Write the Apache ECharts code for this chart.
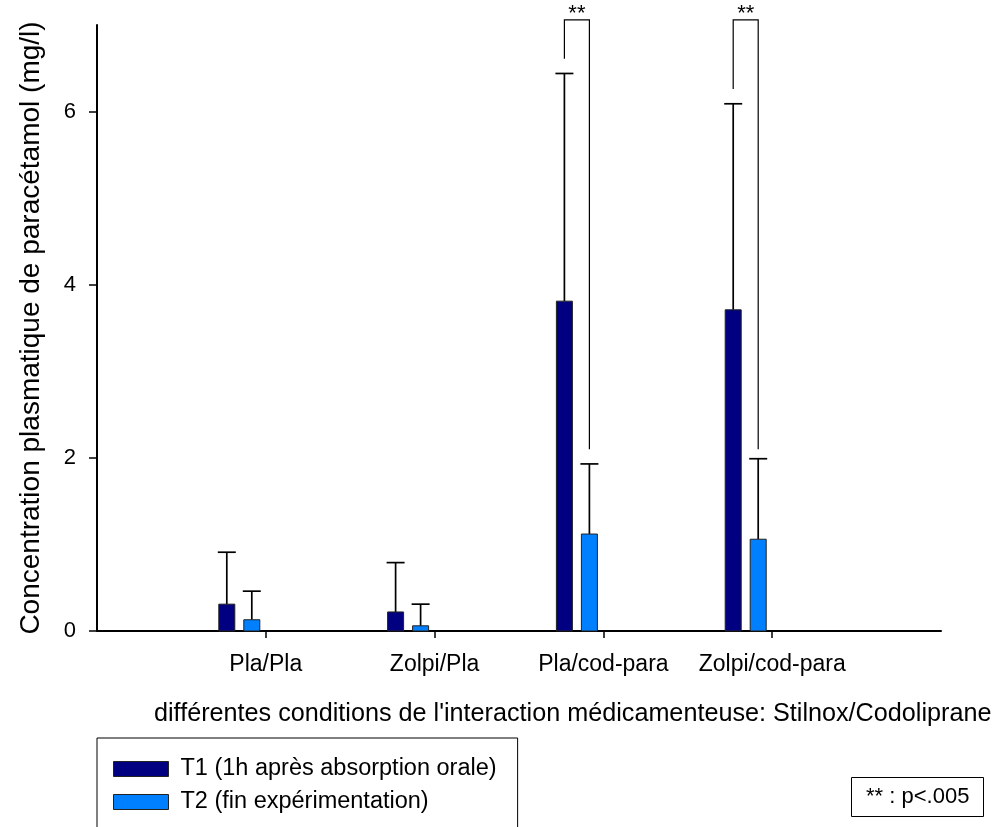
<!DOCTYPE html>
<html>
<head>
<meta charset="utf-8">
<script src="https://cdn.jsdelivr.net/npm/echarts@6/dist/echarts.min.js"></script>
<style>
html,body{margin:0;padding:0;background:#fff;}
#chart{width:1000px;height:827px;}
</style>
</head>
<body>
<div id="chart"></div>
<script>
// ---- data ----
const categories = ['Pla/Pla', 'Zolpi/Pla', 'Pla/cod-para', 'Zolpi/cod-para'];
const seriesNames = ['T1 (1h après absorption orale)', 'T2 (fin expérimentation)'];
const t1Means = [0.31, 0.22, 3.81, 3.71];
const t1Err   = [0.60, 0.57, 2.63, 2.38];
const t2Means = [0.13, 0.06, 1.12, 1.06];
const t2Err   = [0.33, 0.25, 0.81, 0.93];
const yTicks = [0, 2, 4, 6];
const sigCategoryIdx = [2, 3];
const sigLeftStart = [6.61, 6.26];
const sigRightEnd = [2.10, 2.10];
const sigTop = 7.06;
const sigLabel = '**';
const pNote = '** : p<.005';
const xTitle = "différentes conditions de l'interaction médicamenteuse: Stilnox/Codoliprane";
const yTitle = 'Concentration plasmatique de paracétamol (mg/l)';

// ---- styles ----
const FONT = 'Liberation Sans, Arial, Helvetica, sans-serif';
const C1 = '#000080', C2 = '#0080ff';
const BAR_W = 16, OFF1 = -39, OFF2 = -14;

function barRenderer(offset, color) {
  return function (params, api) {
    const x = api.value(0), v = api.value(1), e = api.value(2);
    const base = api.coord([x, 0]);
    const top = api.coord([x, v]);
    const et = api.coord([x, v + e]);
    const cx = base[0] + offset;
    return {
      type: 'group',
      children: [
        {type: 'line', shape: {x1: cx, y1: top[1], x2: cx, y2: et[1]}, style: {stroke: '#000', lineWidth: 1.7}},
        {type: 'line', shape: {x1: cx - 9, y1: et[1], x2: cx + 9, y2: et[1]}, style: {stroke: '#000', lineWidth: 1.7}},
        {type: 'rect', shape: {x: cx - BAR_W / 2, y: top[1], width: BAR_W, height: base[1] - top[1]},
         style: {fill: color, stroke: '#222', lineWidth: 1}}
      ]
    };
  };
}

function sigRenderer(params, api) {
  const x = api.value(0), a = api.value(1), b = api.value(2);
  const pL = api.coord([x, a]);
  const pT = api.coord([x, sigTop]);
  const pR = api.coord([x, b]);
  const xl = pL[0] + OFF1, xr = pL[0] + OFF2;
  return {
    type: 'group',
    children: [
      {type: 'polyline', shape: {points: [[xl, pL[1]], [xl, pT[1]], [xr, pT[1]], [xr, pR[1]]]},
       style: {stroke: '#000', lineWidth: 1.2, fill: null}},
      {type: 'text', x: (xl + xr) / 2, y: pT[1] + 5,
       style: {text: sigLabel, fill: '#000', font: '22px ' + FONT, align: 'center', verticalAlign: 'bottom'}}
    ]
  };
}

const chart = echarts.init(document.getElementById('chart'), null, {renderer: 'canvas'});
chart.setOption({
  animation: false,
  backgroundColor: '#fff',
  title: [
    {text: xTitle, left: 154, top: 702, padding: 0,
     textStyle: {fontFamily: FONT, fontSize: 25.2, fontWeight: 'normal', color: '#000'}},
    {text: pNote, left: 851, top: 777, padding: [9, 14, 9, 15], borderColor: '#000', borderWidth: 1,
     textStyle: {fontFamily: FONT, fontSize: 22, fontWeight: 'normal', color: '#000'}}
  ],
  legend: {
    type: 'plain',
    orient: 'vertical',
    left: 97, top: 738, height: 200,
    padding: [19, 21, 40, 16],
    borderColor: '#000', borderWidth: 1,
    itemWidth: 55, itemHeight: 15, itemGap: 9,
    selectedMode: false,
    textStyle: {fontFamily: FONT, fontSize: 23.5, color: '#000', padding: [0, 0, 0, 7]},
    data: [
      {name: seriesNames[0], icon: 'rect', itemStyle: {color: C1, borderColor: '#222', borderWidth: 1}},
      {name: seriesNames[1], icon: 'rect', itemStyle: {color: C2, borderColor: '#222', borderWidth: 1}}
    ]
  },
  grid: {left: 97, right: 59, top: 25, bottom: 196, containLabel: false},
  xAxis: {
    type: 'value', min: 0, max: 5,
    axisLine: {show: true, onZero: false, lineStyle: {color: '#000', width: 2}},
    axisTick: {show: true, customValues: categories.map((c, i) => i + 1), length: 7, inside: false,
               lineStyle: {color: '#000', width: 1.5}},
    axisLabel: {customValues: categories.map((c, i) => i + 1), margin: 22,
                formatter: v => categories[Math.round(v) - 1] || '',
                fontFamily: FONT, fontSize: 23, color: '#000'},
    splitLine: {show: false}
  },
  yAxis: {
    type: 'value', min: 0, max: 7,
    name: yTitle, nameLocation: 'middle', nameGap: 52,
    nameTextStyle: {fontFamily: FONT, fontSize: 28, color: '#000'},
    axisLine: {show: true, lineStyle: {color: '#000', width: 2}},
    axisTick: {show: true, customValues: yTicks, length: 8, lineStyle: {color: '#000', width: 1.5}},
    axisLabel: {customValues: yTicks, margin: 21, fontFamily: FONT, fontSize: 22, color: '#000'},
    splitLine: {show: false}
  },
  series: [
    {name: seriesNames[0], type: 'custom', itemStyle: {color: C1},
     renderItem: barRenderer(OFF1, C1),
     data: categories.map((c, i) => [i + 1, t1Means[i], t1Err[i]])},
    {name: seriesNames[1], type: 'custom', itemStyle: {color: C2},
     renderItem: barRenderer(OFF2, C2),
     data: categories.map((c, i) => [i + 1, t2Means[i], t2Err[i]])},
    {name: 'sig', type: 'custom', clip: false, silent: true,
     renderItem: sigRenderer,
     data: sigCategoryIdx.map((ci, k) => [ci + 1, sigLeftStart[k], sigRightEnd[k]])}
  ]
});
</script>
</body>
</html>
